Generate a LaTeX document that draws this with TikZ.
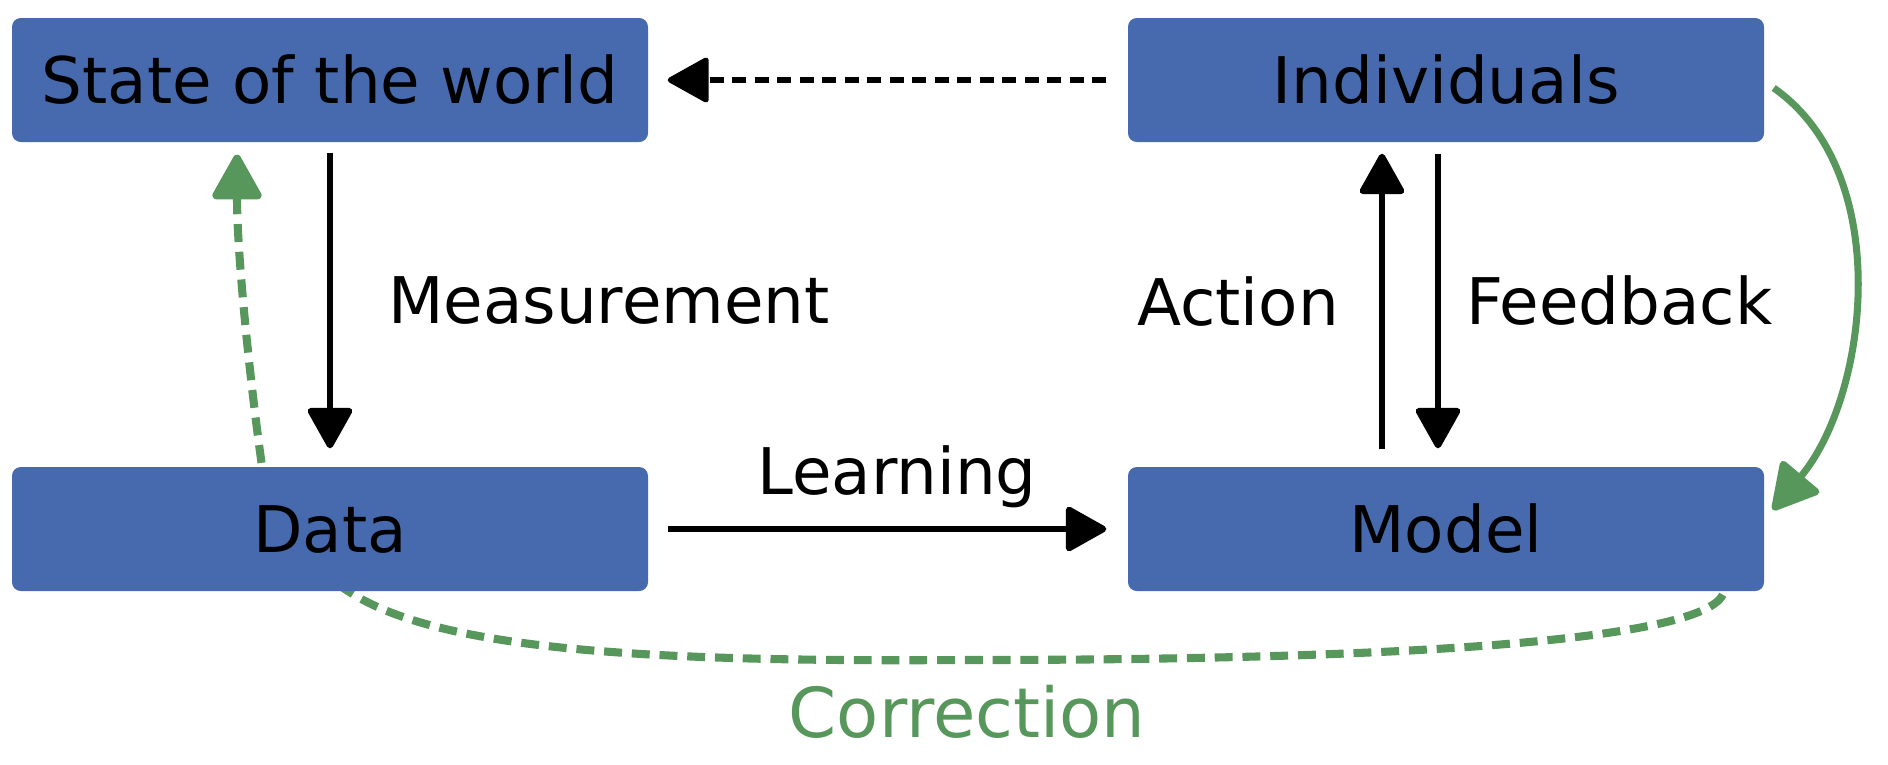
\documentclass[tikz,border=0pt]{standalone}
\usepackage{fontspec}
\setmainfont{DejaVu Sans}
\usepackage{xcolor}
\usepackage{tikz}
\usetikzlibrary{arrows.meta,positioning,backgrounds}
\definecolor{boxblue}{RGB}{71,105,173}
\definecolor{corrgreen}{RGB}{87,151,91}

\begin{document}
\begin{tikzpicture}[
  box/.style={fill=boxblue,rounded corners=2.5pt,minimum width=6.36cm,minimum height=1.24cm,inner sep=0pt,font=\fontsize{18.3}{22}\selectfont},
  lbl/.style={inner sep=0pt,font=\fontsize{18.3}{22}\selectfont},
  ar/.style={-{Triangle[length=12.5pt,width=13.5pt,round]},line width=1.8pt},
  dar/.style={ar,line width=1.5pt,dash pattern=on 4pt off 2.4pt},
  gar/.style={-{Triangle[length=14pt,width=15pt,round]},line width=2pt,corrgreen},
  gdash/.style={gar,line width=2.3pt,dash pattern=on 5.1pt off 2.8pt}
]
\useasboundingbox (0,0) rectangle (18.88,-7.64);

\node[box] (world) at (3.30,-0.80) {State of the world};
\node[box] (indiv) at (14.46,-0.80) {Individuals};
\node[box] (data) at (3.30,-5.29) {Data};
\node[box] (model) at (14.46,-5.29) {Model};

\draw[ar] ([yshift=-0.10cm]world.south) -- node[lbl,right=0.55cm]{Measurement} ([yshift=0.18cm]data.north);
\draw[dar] ([xshift=-0.21cm]indiv.west) -- ([xshift=0.19cm]world.east);
\draw[ar] ([xshift=0.19cm]data.east) -- node[lbl,above=0.18cm,xshift=0.1cm]{Learning} ([xshift=-0.21cm]model.west);
\draw[ar] ([xshift=-0.64cm,yshift=0.17cm]model.north) -- node[lbl,left=0.40cm]{Action} ([xshift=-0.64cm,yshift=-0.11cm]indiv.south);
\draw[ar] ([xshift=-0.08cm,yshift=-0.11cm]indiv.south) -- node[lbl,right=0.25cm]{Feedback} ([xshift=-0.08cm,yshift=0.18cm]model.north);

\draw[gar] ([xshift=0.09cm,yshift=-0.08cm]indiv.east) to[out=-35,in=50,looseness=0.9] ([xshift=0.08cm,yshift=0.19cm]model.east);

\begin{scope}[on background layer]
\coordinate (low) at (9.67,-6.60);
\draw[gdash] ([xshift=-0.42cm,yshift=-0.03cm]model.south east)
  .. controls +(-0.22,-0.46) and +(4.33,0) .. (low)
  node[lbl,below=0.21cm,font=\fontsize{19.6}{24}\selectfont,text=corrgreen]{Correction}
  .. controls +(-3.17,-0.02) and +(0.91,-0.59) .. ([xshift=0.19cm]data.south)
  .. controls +(-0.5,0.32) and +(0.08,-0.6) .. ([xshift=-0.68cm]data.north)
  .. controls +(-0.12,0.85) and +(0,-1.0) .. ([xshift=-0.93cm,yshift=-0.12cm]world.south);
\end{scope}
\end{tikzpicture}
\end{document}
